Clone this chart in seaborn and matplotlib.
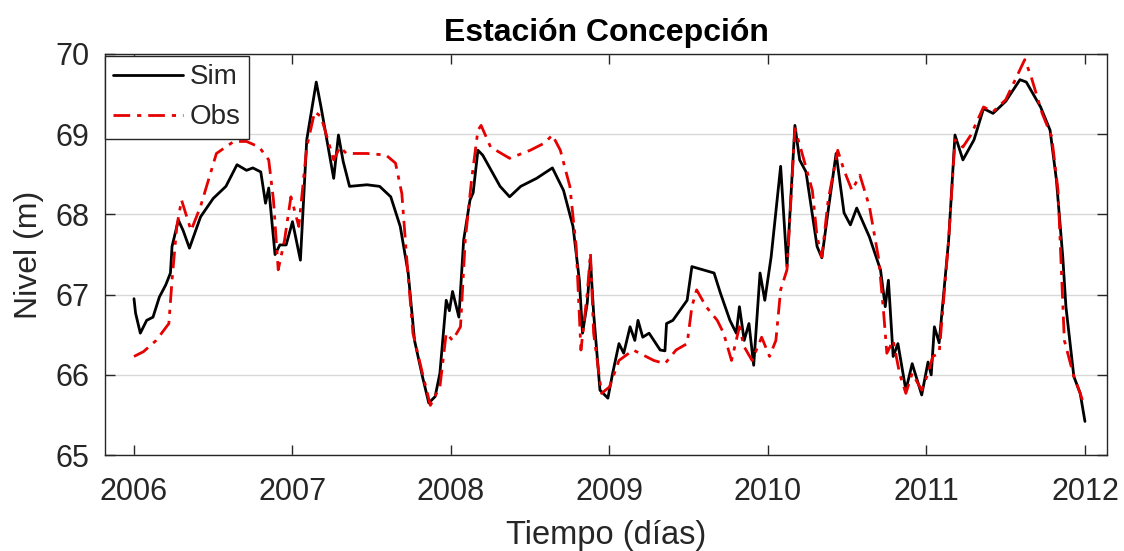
import numpy as np
import pandas as pd
import matplotlib
matplotlib.use("Agg")
import matplotlib.pyplot as plt
import seaborn as sns

# Time axis in decimal years, water level in metres
t_sim = [2006.00, 2006.01, 2006.04, 2006.08, 2006.12, 2006.16, 2006.20, 2006.23, 2006.24, 2006.28,
         2006.31, 2006.35, 2006.42, 2006.50, 2006.58, 2006.65, 2006.71, 2006.75, 2006.80, 2006.83,
         2006.85, 2006.89, 2006.92, 2006.96, 2007.00, 2007.05, 2007.09, 2007.15, 2007.18, 2007.26,
         2007.29, 2007.32, 2007.36, 2007.47, 2007.55, 2007.62, 2007.68, 2007.73, 2007.77, 2007.82,
         2007.86, 2007.90, 2007.93, 2007.97, 2007.99, 2008.01, 2008.05, 2008.08, 2008.12, 2008.14,
         2008.17, 2008.20, 2008.31, 2008.37, 2008.44, 2008.54, 2008.64, 2008.71, 2008.77, 2008.81,
         2008.83, 2008.86, 2008.88, 2008.90, 2008.94, 2008.99, 2009.02, 2009.06, 2009.09, 2009.13,
         2009.16, 2009.18, 2009.21, 2009.25, 2009.32, 2009.35, 2009.36, 2009.40, 2009.49, 2009.52,
         2009.59, 2009.66, 2009.70, 2009.76, 2009.80, 2009.82, 2009.85, 2009.88, 2009.91, 2009.95,
         2009.98, 2010.02, 2010.08, 2010.12, 2010.17, 2010.20, 2010.24, 2010.31, 2010.34, 2010.38,
         2010.43, 2010.48, 2010.52, 2010.56, 2010.64, 2010.71, 2010.74, 2010.76, 2010.79, 2010.82,
         2010.87, 2010.91, 2010.97, 2011.01, 2011.03, 2011.05, 2011.08, 2011.14, 2011.18, 2011.23,
         2011.30, 2011.36, 2011.42, 2011.50, 2011.59, 2011.63, 2011.72, 2011.78, 2011.82, 2011.86,
         2011.88, 2011.93, 2011.97, 2012.00]
nivel_sim = [66.95, 66.77, 66.52, 66.68, 66.72, 66.97, 67.12, 67.27, 67.60, 67.93,
             67.80, 67.58, 67.97, 68.20, 68.35, 68.62, 68.55, 68.58, 68.53, 68.14,
             68.33, 67.50, 67.62, 67.62, 67.91, 67.43, 68.93, 69.65, 69.34, 68.45,
             68.99, 68.66, 68.35, 68.37, 68.35, 68.22, 67.85, 67.27, 66.43, 65.98,
             65.65, 65.73, 66.02, 66.93, 66.80, 67.04, 66.72, 67.68, 68.18, 68.27,
             68.80, 68.74, 68.35, 68.22, 68.35, 68.45, 68.58, 68.30, 67.85, 67.18,
             66.52, 66.90, 67.43, 66.77, 65.81, 65.71, 66.02, 66.39, 66.27, 66.60,
             66.43, 66.68, 66.47, 66.52, 66.31, 66.30, 66.64, 66.68, 66.93, 67.35,
             67.31, 67.27, 67.02, 66.68, 66.52, 66.85, 66.43, 66.64, 66.12, 67.27,
             66.93, 67.47, 68.60, 67.35, 69.11, 68.68, 68.53, 67.60, 67.46, 68.05,
             68.76, 68.02, 67.87, 68.08, 67.72, 67.31, 66.85, 67.18, 66.23, 66.39,
             65.81, 66.14, 65.75, 66.16, 66.00, 66.60, 66.40, 67.68, 68.99, 68.68,
             68.93, 69.32, 69.26, 69.41, 69.68, 69.65, 69.34, 69.05, 68.43, 67.47,
             66.85, 65.98, 65.77, 65.42]

t_obs = [2006.00, 2006.06, 2006.14, 2006.22, 2006.24, 2006.27, 2006.30, 2006.36, 2006.42, 2006.52,
         2006.63, 2006.71, 2006.79, 2006.85, 2006.88, 2006.91, 2006.95, 2006.99, 2007.04, 2007.09,
         2007.14, 2007.18, 2007.26, 2007.30, 2007.34, 2007.47, 2007.59, 2007.65, 2007.69, 2007.72,
         2007.76, 2007.82, 2007.87, 2007.93, 2007.97, 2008.01, 2008.06, 2008.09, 2008.13, 2008.17,
         2008.19, 2008.25, 2008.37, 2008.50, 2008.59, 2008.64, 2008.69, 2008.75, 2008.79, 2008.82,
         2008.86, 2008.88, 2008.90, 2008.95, 2009.00, 2009.06, 2009.15, 2009.28, 2009.35, 2009.42,
         2009.49, 2009.52, 2009.55, 2009.61, 2009.68, 2009.72, 2009.77, 2009.82, 2009.85, 2009.90,
         2009.96, 2010.01, 2010.05, 2010.08, 2010.12, 2010.17, 2010.21, 2010.28, 2010.31, 2010.34,
         2010.38, 2010.44, 2010.48, 2010.53, 2010.58, 2010.64, 2010.70, 2010.73, 2010.75, 2010.79,
         2010.83, 2010.87, 2010.91, 2010.97, 2011.01, 2011.04, 2011.08, 2011.14, 2011.18, 2011.23,
         2011.28, 2011.36, 2011.42, 2011.50, 2011.57, 2011.62, 2011.66, 2011.73, 2011.79, 2011.83,
         2011.87, 2011.93, 2011.97, 2011.99]
nivel_obs = [66.23, 66.29, 66.43, 66.64, 67.18, 67.85, 68.18, 67.80, 68.10, 68.76,
             68.91, 68.91, 68.84, 68.68, 68.18, 67.31, 67.68, 68.22, 67.85, 68.84,
             69.28, 69.22, 68.68, 68.84, 68.76, 68.76, 68.74, 68.64, 68.26, 67.47,
             66.52, 66.02, 65.62, 65.85, 66.52, 66.43, 66.60, 67.68, 68.43, 69.05,
             69.11, 68.84, 68.70, 68.80, 68.89, 68.99, 68.80, 68.35, 67.60, 66.31,
             67.02, 67.52, 66.52, 65.77, 65.85, 66.18, 66.31, 66.18, 66.14, 66.31,
             66.39, 66.85, 67.06, 66.85, 66.68, 66.52, 66.18, 66.60, 66.35, 66.18,
             66.47, 66.23, 66.43, 67.06, 67.31, 69.07, 68.80, 68.30, 67.72, 67.47,
             68.18, 68.80, 68.55, 68.30, 68.49, 68.10, 67.43, 66.77, 66.27, 66.43,
             66.02, 65.77, 66.02, 65.81, 66.02, 66.23, 66.27, 67.68, 68.93, 68.84,
             68.99, 69.34, 69.28, 69.43, 69.72, 69.93, 69.72, 69.26, 68.97, 68.30,
             66.43, 65.98, 65.77, 65.65]

year_ticks = [2006, 2007, 2008, 2009, 2010, 2011, 2012]
level_ticks = [65, 66, 67, 68, 69, 70]

sns.set_theme(style="ticks")
plt.rcParams["font.family"] = ["Liberation Sans", "DejaVu Sans"]

df_sim = pd.DataFrame({"t": t_sim, "nivel": nivel_sim})
df_obs = pd.DataFrame({"t": t_obs, "nivel": nivel_obs})

fig = plt.figure(figsize=(11.24, 5.51), dpi=100)
ax = fig.add_axes([0.0934, 0.174, 0.8916, 0.728])

sns.lineplot(data=df_sim, x="t", y="nivel", ax=ax, color="black", linewidth=2.0,
             label="Sim", estimator=None, sort=False)
sns.lineplot(data=df_obs, x="t", y="nivel", ax=ax, color="#e60000", linewidth=2.0,
             label="Obs", estimator=None, sort=False)
ax.lines[1].set_dashes([6, 2.5, 1.5, 2.5])

ax.set_xlim(2005.817, 2012.14)
ax.set_ylim(65, 70)
ax.set_xticks(year_ticks)
ax.set_xticklabels([str(y) for y in year_ticks])
ax.set_yticks(level_ticks)

ax.yaxis.grid(True, color="#d9d9d9", linewidth=1.0)
ax.xaxis.grid(False)

for side in ["top", "right", "bottom", "left"]:
    ax.spines[side].set_visible(True)
    ax.spines[side].set_color("#262626")
    ax.spines[side].set_linewidth(1.0)

ax.tick_params(axis="both", direction="in", length=7, width=1.0, colors="#262626",
               labelcolor="#262626", labelsize=22, top=True, right=True)
ax.tick_params(axis="x", pad=16)
ax.tick_params(axis="y", pad=11)

ax.set_xlabel("Tiempo (días)", fontsize=23.5, color="#262626", labelpad=9)
ax.set_ylabel("Nivel (m)", fontsize=23, color="#262626", labelpad=8)
ax.set_title("Estación Concepción", fontsize=23, fontweight="bold", color="black", pad=9.5)

leg = ax.legend(loc="upper left", bbox_to_anchor=(0.0, 0.995), fontsize=20,
                frameon=True, fancybox=False, framealpha=1, edgecolor="#262626",
                handlelength=2.5, handletextpad=0.25, borderpad=0.3,
                labelspacing=0.5, borderaxespad=0.0)
leg.get_frame().set_linewidth(1.0)

fig.savefig("out.png", dpi=100)
